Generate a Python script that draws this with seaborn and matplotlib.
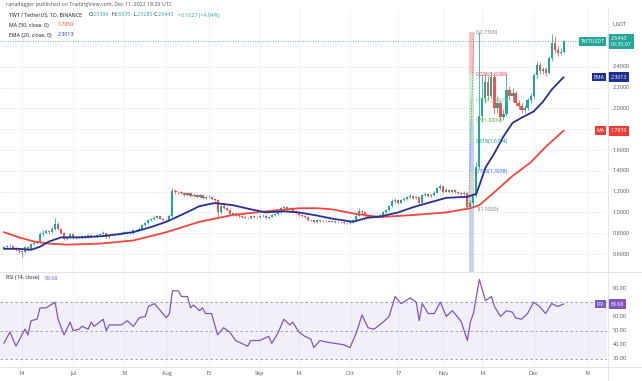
import numpy as np
import pandas as pd
import matplotlib
matplotlib.use("Agg")
import matplotlib.pyplot as plt
import seaborn as sns

# daily candles, day 0 = Jun 8 2022, day 186 = Dec 11 2022
first_open = 0.660
closes = [0.665, 0.675, 0.680, 0.655, 0.640, 0.625, 0.615, 0.665, 0.650, 0.700,
          0.705, 0.715, 0.790, 0.805, 0.820, 0.810, 0.840, 0.890, 0.840, 0.800,
          0.745, 0.765, 0.790, 0.750, 0.760, 0.765, 0.775, 0.760, 0.785, 0.770,
          0.775, 0.785, 0.795, 0.800, 0.760, 0.785, 0.790, 0.785, 0.790, 0.805,
          0.810, 0.815, 0.800, 0.830, 0.835, 0.845, 0.880, 0.900, 0.925, 0.935,
          0.950, 0.965, 0.940, 0.925, 0.930, 0.970, 1.210, 1.200, 1.195, 1.190,
          1.170, 1.185, 1.160, 1.170, 1.150, 1.165, 1.140, 1.145, 1.150, 1.130,
          1.120, 1.000, 1.060, 1.040, 1.020, 0.980, 0.990, 0.975, 0.965, 0.955,
          0.950, 0.945, 0.965, 0.960, 0.955, 0.965, 0.970, 0.945, 0.960, 0.975,
          0.985, 1.000, 1.040, 1.050, 1.030, 1.040, 1.010, 0.990, 0.975, 0.965,
          0.955, 0.930, 0.925, 0.910, 0.925, 0.920, 0.915, 0.918, 0.912, 0.915,
          0.908, 0.905, 0.910, 0.900, 0.895, 0.905, 0.925, 0.970, 1.010, 1.000,
          0.965, 0.955, 0.960, 0.950, 0.965, 0.975, 1.000, 1.020, 1.060, 1.110,
          1.115, 1.095, 1.120, 1.130, 1.150, 1.160, 1.140, 1.150, 1.090, 1.170,
          1.180, 1.160, 1.170, 1.190, 1.230, 1.250, 1.200, 1.220, 1.195, 1.215,
          1.200, 1.185, 1.175, 1.190, 1.050, 1.090, 1.160, 1.440, 1.930, 2.100,
          2.250, 2.120, 2.300, 2.000, 2.050, 1.920, 1.950, 2.180, 2.120, 2.150,
          2.050, 2.020, 1.980, 2.000, 2.080, 2.120, 2.320, 2.420, 2.360, 2.380,
          2.340, 2.480, 2.630, 2.560, 2.530, 2.540, 2.644]
highs = [0.675, 0.685, 0.695, 0.690, 0.665, 0.650, 0.635, 0.675, 0.675, 0.710,
         0.725, 0.730, 0.810, 0.835, 0.845, 0.835, 0.855, 0.950, 0.905, 0.850,
         0.810, 0.775, 0.805, 0.795, 0.770, 0.775, 0.785, 0.780, 0.795, 0.790,
         0.782, 0.795, 0.805, 0.820, 0.805, 0.792, 0.800, 0.795, 0.798, 0.815,
         0.820, 0.825, 0.822, 0.838, 0.845, 0.855, 0.890, 0.912, 0.935, 0.950,
         0.962, 0.975, 0.970, 0.948, 0.940, 0.985, 1.235, 1.225, 1.210, 1.205,
         1.200, 1.195, 1.195, 1.185, 1.180, 1.175, 1.172, 1.160, 1.165, 1.158,
         1.140, 1.130, 1.075, 1.090, 1.055, 1.030, 1.005, 0.998, 0.985, 0.975,
         0.965, 0.958, 0.975, 0.972, 0.968, 0.975, 0.982, 0.978, 0.965, 0.985,
         0.995, 1.010, 1.055, 1.065, 1.058, 1.050, 1.045, 1.020, 0.998, 0.985,
         0.975, 0.962, 0.940, 0.935, 0.932, 0.930, 0.926, 0.925, 0.924, 0.922,
         0.920, 0.915, 0.918, 0.915, 0.908, 0.912, 0.932, 0.985, 1.045, 1.020,
         1.008, 0.975, 0.970, 0.968, 0.972, 0.985, 1.010, 1.030, 1.070, 1.125,
         1.135, 1.125, 1.130, 1.145, 1.160, 1.175, 1.170, 1.158, 1.160, 1.180,
         1.195, 1.190, 1.180, 1.205, 1.245, 1.270, 1.258, 1.232, 1.228, 1.225,
         1.225, 1.210, 1.195, 1.205, 1.200, 1.120, 1.175, 1.480, 2.730, 2.330,
         2.330, 2.310, 2.350, 2.340, 2.120, 2.080, 1.990, 2.330, 2.220, 2.200,
         2.170, 2.080, 2.050, 2.030, 2.100, 2.150, 2.340, 2.460, 2.450, 2.400,
         2.400, 2.500, 2.720, 2.700, 2.600, 2.580, 2.658]
lows = [0.650, 0.655, 0.665, 0.650, 0.630, 0.605, 0.575, 0.605, 0.640, 0.645,
        0.690, 0.695, 0.705, 0.775, 0.795, 0.795, 0.800, 0.830, 0.830, 0.790,
        0.730, 0.735, 0.755, 0.740, 0.742, 0.752, 0.758, 0.752, 0.755, 0.762,
        0.762, 0.768, 0.778, 0.788, 0.750, 0.752, 0.778, 0.775, 0.778, 0.782,
        0.798, 0.802, 0.795, 0.795, 0.822, 0.828, 0.840, 0.870, 0.890, 0.915,
        0.925, 0.942, 0.932, 0.915, 0.912, 0.920, 0.960, 1.180, 1.180, 1.175,
        1.160, 1.160, 1.150, 1.152, 1.140, 1.140, 1.130, 1.130, 1.135, 1.120,
        1.105, 0.950, 0.985, 1.030, 1.010, 0.970, 0.970, 0.965, 0.955, 0.945,
        0.942, 0.935, 0.940, 0.950, 0.945, 0.948, 0.958, 0.940, 0.938, 0.952,
        0.968, 0.978, 0.995, 1.030, 1.022, 1.025, 1.000, 0.980, 0.965, 0.955,
        0.945, 0.920, 0.915, 0.900, 0.902, 0.912, 0.908, 0.908, 0.905, 0.905,
        0.900, 0.898, 0.898, 0.892, 0.885, 0.890, 0.898, 0.918, 0.962, 0.985,
        0.958, 0.945, 0.948, 0.942, 0.945, 0.958, 0.968, 0.992, 1.012, 1.050,
        1.095, 1.085, 1.088, 1.110, 1.122, 1.140, 1.130, 1.132, 1.080, 1.085,
        1.160, 1.150, 1.152, 1.162, 1.185, 1.220, 1.190, 1.192, 1.188, 1.185,
        1.190, 1.175, 1.165, 1.165, 1.030, 1.035, 1.075, 1.150, 1.420, 1.880,
        2.050, 2.080, 2.100, 1.950, 1.960, 1.880, 1.890, 1.930, 2.080, 2.060,
        2.020, 1.990, 1.960, 1.960, 1.980, 2.050, 2.100, 2.290, 2.330, 2.330,
        2.310, 2.330, 2.460, 2.530, 2.500, 2.510, 2.528]

ma50_days = [0, 5, 10, 15, 21, 32, 43, 54, 65, 76, 87, 98, 104, 109, 116, 125,
             136, 147, 155, 158, 164, 169, 175, 180, 186]
ma50_vals = [0.81, 0.76, 0.72, 0.70, 0.69, 0.70, 0.73, 0.81, 0.91, 0.975, 1.01,
             1.04, 1.04, 1.03, 0.99, 0.955, 0.975, 1.00, 1.04, 1.07, 1.22, 1.35,
             1.48, 1.63, 1.786]
ema20_days = [0, 5, 9, 12, 15, 19, 22, 26, 32, 38, 43, 49, 54, 60, 65, 70, 76,
              82, 87, 93, 98, 104, 109, 116, 121, 125, 131, 136, 142, 147, 154,
              157, 158, 160, 163, 166, 169, 172, 176, 179, 182, 186]
ema20_vals = [0.65, 0.65, 0.64, 0.67, 0.72, 0.76, 0.76, 0.76, 0.77, 0.79, 0.81,
              0.86, 0.91, 0.99, 1.06, 1.09, 1.07, 1.03, 1.00, 1.01, 1.00, 0.97,
              0.94, 0.91, 0.95, 0.96, 1.00, 1.05, 1.10, 1.14, 1.15, 1.18, 1.26,
              1.43, 1.57, 1.73, 1.86, 1.91, 1.97, 2.06, 2.18, 2.301]

rsi_days = [0, 2, 4, 7, 8, 9, 11, 12, 14, 17, 18, 20, 22, 23, 25, 26, 28, 29, 30,
            33, 34, 35, 39, 41, 43, 45, 47, 48, 50, 52, 54, 55, 56, 58, 59, 61,
            62, 63, 65, 66, 67, 69, 71, 73, 75, 77, 80, 81, 82, 85, 88, 89, 91,
            93, 95, 96, 98, 100, 102, 103, 105, 107, 110, 113, 115, 117, 119,
            121, 123, 126, 128, 130, 132, 135, 137, 138, 139, 141, 143, 145, 147,
            149, 151, 152, 154, 155, 156, 158, 160, 162, 163, 165, 167, 169, 170,
            172, 174, 176, 178, 180, 182, 184, 186]
rsi_vals = [41, 49, 39, 51, 47, 57, 58, 66, 66, 70, 58, 47, 56, 50, 51, 53, 51,
            56, 53, 58, 50, 54, 54, 57, 53, 59, 60, 67, 69, 64, 59, 62, 78, 78,
            74, 74, 66, 68, 64, 66, 62, 62, 47, 52, 49, 43, 40, 39, 43, 43, 46,
            41, 48, 58, 54, 56, 49, 46, 44, 38, 43, 42, 41, 40, 38, 48, 61, 52,
            51, 56, 60, 74, 69, 73, 70, 57, 69, 62, 62, 70, 60, 64, 59, 56, 43,
            56, 62, 86, 71, 74, 67, 60, 64, 63, 59, 58, 62, 70, 67, 62, 69, 67,
            68.68]

tick_days = [6, 23, 40, 54, 68, 85, 98, 115, 131, 146, 159, 176, 194]
tick_labels = ["14", "Jul", "18", "Aug", "15", "Sep", "14", "Oct", "17", "Nov",
               "14", "Dec", "19"]
price_grid = [0.6, 0.8, 1.0, 1.2, 1.4, 1.6, 1.8, 2.0, 2.2, 2.4, 2.6]
price_labels = [0.6, 0.8, 1.0, 1.2, 1.4, 1.6, 2.0, 2.2, 2.4]
rsi_ticks = [80, 60, 50, 40, 30]

fib_high, fib_low = 2.73, 1.03
fib_ratios = [0, 0.236, 0.382, 0.5, 0.618, 0.786, 1]
fib_colors = ["#787b86", "#f23645", "#81c784", "#4caf50", "#089981", "#2962ff", "#787b86"]

last_close, ma_last, ema_last, rsi_last = 2.6443, 1.7859, 2.3013, 68.68

UP, DOWN = "#26a69a", "#ef5350"
MA_C, EMA_C, RSI_C = "#f0463c", "#25318f", "#7e57c2"
TXT = "#50535e"

sns.set_style("white")
plt.rcParams["font.family"] = ["Open Sans", "DejaVu Sans"]

W, H = 642, 381
fig = plt.figure(figsize=(W / 100, H / 100), dpi=100)


def box(x0, y0, x1, y1):
    return [x0 / W, 1 - y1 / H, (x1 - x0) / W, (y1 - y0) / H]


ax = fig.add_axes(box(0, 9, 607, 271))
rax = fig.add_axes(box(0, 272, 607, 366))

df = pd.DataFrame({"day": np.arange(len(closes)), "close": closes,
                   "high": highs, "low": lows})
df["open"] = [first_open] + closes[:-1]
df["color"] = np.where(df.close >= df.open, UP, DOWN)

xlim = (-1.3, 200.4)
for a in (ax, rax):
    a.set_xlim(*xlim)
    for d in tick_days:
        a.axvline(d, color="#eef0f4", lw=0.6, zorder=0)
    a.set_xticks([])
    a.set_yticks([])
    for s in a.spines.values():
        s.set_visible(False)

ax.set_ylim(0.6 - 17 / 104, 0.6 + 245 / 104)
for p in price_grid:
    ax.axhline(p, color="#eef0f4", lw=0.6, zorder=0)

# fib retracement band
x0f, x1f = 154.4, 156.2
levels = [fib_high - r * (fib_high - fib_low) for r in fib_ratios]
for k in range(len(levels) - 1):
    ax.fill_between([x0f, x1f], levels[k + 1], levels[k], color=fib_colors[k + 1],
                    alpha=0.3, lw=0, zorder=1)
ax.fill_between([x0f, x1f], 0.3, fib_low, color="#5c6bc0", alpha=0.3, lw=0, zorder=1)
ax.plot([x0f, x1f], [fib_low, fib_high], color="#787b86", lw=0.5, ls=(0, (2, 2)), zorder=1)
for r, lv, c in zip(fib_ratios, levels, fib_colors):
    ax.text(156.9, lv, f"{r:g}({lv:.4f})", fontsize=3.7, color=c, va="center",
            ha="left", zorder=6)

# candles
ax.vlines(df.day, df.low, df.high, colors=df.color, lw=0.55, zorder=3)
body_lo = df[["open", "close"]].min(axis=1)
body_h = (df.open - df.close).abs().clip(lower=0.004)
ax.bar(df.day, body_h, bottom=body_lo, width=0.7, color=df.color, lw=0, zorder=3)

sns.lineplot(x=ma50_days, y=ma50_vals, ax=ax, color=MA_C, linewidth=1.3, zorder=4)
sns.lineplot(x=ema20_days, y=ema20_vals, ax=ax, color=EMA_C, linewidth=1.3, zorder=4)
ax.axhline(last_close, color=UP, lw=0.6, ls=(0, (1, 2)), zorder=2)
ax.set_xlabel("")
ax.set_ylabel("")

yt = ax.get_yaxis_transform()
for p in price_labels:
    ax.text(1.009, p, f"{p:.4f}", transform=yt, fontsize=4, color=TXT,
            va="center", ha="left", clip_on=False, zorder=5)
ax.text(1.009, 0.6 + (254 - 25) / 104, "USDT", transform=yt, fontsize=4,
        color=TXT, va="center", ha="left", clip_on=False)


def badge(a, y, left, right, color, small=None):
    a.text(0.996, y, left, transform=a.get_yaxis_transform(), fontsize=3.8,
           color="white", va="center", ha="right", clip_on=False, zorder=8,
           bbox=dict(boxstyle="square,pad=0.35", fc=color, ec="none"))
    label = right if small is None else right + "\n" + small
    a.text(1.006, y, label, transform=a.get_yaxis_transform(), fontsize=3.8,
           color="white", va="center", ha="left", clip_on=False, zorder=8,
           linespacing=1.1,
           bbox=dict(boxstyle="square,pad=0.45", fc=color, ec="none"))


badge(ax, last_close, "TWTUSDT", f"{last_close:.4f}", UP, "05:35:07")
badge(ax, ema_last, "EMA", f"{ema_last:.4f}", "#1f2f8f")
badge(ax, ma_last, "MA", f"{ma_last:.4f}", "#ef3b36")

# RSI pane
rax.set_ylim(30 - 7 / 1.42, 80 + 16 / 1.42)
rax.axhspan(30, 70, color=RSI_C, alpha=0.09, lw=0, zorder=0)
for lv in (70, 50, 30):
    rax.axhline(lv, color="#9598a1", lw=0.6, ls=(0, (3, 3)), zorder=1)
sns.lineplot(x=rsi_days, y=rsi_vals, ax=rax, color=RSI_C, linewidth=0.9, zorder=3)
rax.set_xlabel("")
rax.set_ylabel("")
ryt = rax.get_yaxis_transform()
for v in rsi_ticks:
    rax.text(1.009, v, f"{v:.2f}", transform=ryt, fontsize=4, color=TXT,
             va="center", ha="left", clip_on=False)
badge(rax, rsi_last, "RSI", f"{rsi_last:.2f}", RSI_C)

xt = rax.get_xaxis_transform()
for d, lab in zip(tick_days, tick_labels):
    rax.text(d, -0.075, lab, transform=xt, fontsize=4, color=TXT, ha="center",
             va="center", clip_on=False)

# pane borders
fig.add_artist(plt.Line2D([0, 1], [1 - 271.5 / H] * 2, color="#e0e3eb", lw=0.8))
fig.add_artist(plt.Line2D([0, 1], [1 - 366.5 / H] * 2, color="#e0e3eb", lw=0.6))
fig.add_artist(plt.Line2D([607.5 / W] * 2, [0, 1 - 9 / H], color="#e0e3eb", lw=0.6))

# legend header
fig.text(6 / W, 1 - 4.5 / H, "ranadagger published on TradingView.com, Dec 11, 2022 18:29 UTC",
         fontsize=3.8, color=TXT, va="center")
fig.text(9 / W, 1 - 15 / H, "TWT / TetherUS, 1D, BINANCE", fontsize=3.8, color="#131722", va="center")
ohlc = [("O", "2.5399", 89), ("H", "2.6576", 111), ("L", "2.5285", 133), ("C", "2.6443", 154)]
for k, v, x in ohlc:
    fig.text(x / W, 1 - 15 / H, k, fontsize=3.8, color="#131722", va="center")
    fig.text((x + 3.5) / W, 1 - 15 / H, v, fontsize=3.8, color=UP, va="center")
fig.text(178 / W, 1 - 15 / H, "+0.1027 (+4.04%)", fontsize=3.8, color=UP, va="center")
fig.text(9 / W, 1 - 25 / H, "MA (50, close, 0)", fontsize=3.8, color="#131722", va="center")
fig.text(58 / W, 1 - 25 / H, f"{ma_last:.4f}", fontsize=3.8, color=MA_C, va="center")
fig.text(9 / W, 1 - 35 / H, "EMA (20, close, 0)", fontsize=3.8, color="#131722", va="center")
fig.text(58 / W, 1 - 35 / H, f"{ema_last:.4f}", fontsize=3.8, color=EMA_C, va="center")
fig.text(6 / W, 1 - 278 / H, "RSI (14, close)", fontsize=3.8, color="#131722", va="center")
fig.text(45 / W, 1 - 278 / H, f"{rsi_last:.2f}", fontsize=3.8, color=RSI_C, va="center")

fig.savefig("out.png", dpi=100)
